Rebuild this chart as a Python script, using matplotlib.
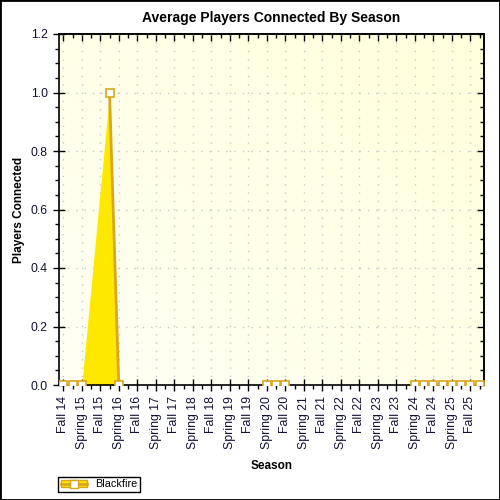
import numpy as np
import matplotlib
matplotlib.use("Agg")
import matplotlib.pyplot as plt
from matplotlib.lines import Line2D
from matplotlib.patches import Patch, Rectangle
from matplotlib.ticker import MultipleLocator, FormatStrFormatter, NullFormatter

plt.rcParams["font.family"] = ["Liberation Sans", "DejaVu Sans"]

# %%
# data: one label per season, samples every half season
season_labels = [
    "Fall 14", "Spring 15", "Fall 15", "Spring 16", "Fall 16", "Spring 17",
    "Fall 17", "Spring 18", "Fall 18", "Spring 19", "Fall 19", "Spring 20",
    "Fall 20", "Spring 21", "Fall 21", "Spring 22", "Fall 22", "Spring 23",
    "Fall 23", "Spring 24", "Fall 24", "Spring 25", "Fall 25",
]
sample_pos = [0, 0.5, 1, 2.5, 3, 11, 11.5, 12,
              19, 19.5, 20, 20.5, 21, 21.5, 22, 22.5]
players = [0.0, 0.0, 0.0, 1.0, 0.0, 0.0, 0.0, 0.0,
           0.0, 0.0, 0.0, 0.0, 0.0, 0.0, 0.0, 0.0]
series_name = "Blackfire"

line_col = "#DAA520"
fill_col = "#FFE800"

x = np.asarray(sample_pos, dtype=float)
y = np.asarray(players, dtype=float)

# line breaks where samples are missing (fill does not break)
xs, ys = [x[0]], [y[0]]
for i in range(1, len(x)):
    if x[i] - x[i - 1] > 0.5:
        xs.append(np.nan)
        ys.append(np.nan)
    xs.append(x[i])
    ys.append(y[i])

# %%
fig = plt.figure(figsize=(5, 5), dpi=100)
ax = fig.add_axes([0.118, 0.23, 0.85, 0.702])

# soft yellow gradient background
grad = np.linspace(0, 1, 256)
gx, gy = np.meshgrid(grad, grad)
g = (gx + gy) / 2
c0 = np.array([1.0, 1.0, 0.96])
c1 = np.array([1.0, 1.0, 0.86])
img = c0 + (c1 - c0) * g[..., None]
ax.imshow(img, extent=(0, 1, 0, 1), transform=ax.transAxes, origin="lower",
          aspect="auto", zorder=0)

ax.set_xlim(-0.23, 22.74)
ax.set_ylim(0, 1.2)

ax.fill_between(x, y, 0, color=fill_col, lw=0, zorder=2)
ax.plot(xs, ys, color=line_col, lw=2, zorder=3)
ax.plot(x, y, ls="none", marker="s", ms=6, mfc="white", mec=line_col,
        mew=1.2, zorder=4)

# ticks: bottom/left cross the axis, top/right point inward
ax.set_xticks(range(len(season_labels)))
ax.set_xticklabels(season_labels, rotation=90)
ax.xaxis.set_minor_locator(MultipleLocator(0.5))
ax.yaxis.set_major_locator(MultipleLocator(0.2))
ax.yaxis.set_minor_locator(MultipleLocator(0.05))
ax.yaxis.set_major_formatter(FormatStrFormatter("%.1f"))
ax.tick_params(axis="both", which="major", direction="inout", length=8,
               width=1, labelsize=8.8, labelcolor="#111133")
ax.tick_params(axis="both", which="minor", direction="out", length=3, width=1)
ax.tick_params(axis="x", which="major", pad=4)
ax.tick_params(axis="y", which="major", pad=4)

for where in ("top", "right"):
    sec = (ax.secondary_xaxis(where) if where == "top"
           else ax.secondary_yaxis(where))
    axis = sec.xaxis if where == "top" else sec.yaxis
    if where == "top":
        axis.set_major_locator(MultipleLocator(1))
        axis.set_minor_locator(MultipleLocator(0.5))
    else:
        axis.set_major_locator(MultipleLocator(0.2))
        axis.set_minor_locator(MultipleLocator(0.05))
    axis.set_major_formatter(NullFormatter())
    sec.tick_params(which="major", direction="in", length=5, width=1)
    sec.tick_params(which="minor", direction="in", length=3, width=1)
    sec.spines[where].set_linewidth(1.2)

for sp in ax.spines.values():
    sp.set_linewidth(1.2)

ax.grid(True, which="major", color="#c8c8c8", ls=(0, (1, 5)), lw=1)
for gl in ax.get_xgridlines() + ax.get_ygridlines():
    gl.set_zorder(1)

ax.set_title("Average Players Connected By Season", fontsize=10,
             fontweight="bold", pad=9)
ax.set_xlabel("Season", fontsize=8.5, fontweight="bold", labelpad=8)
ax.set_ylabel("Players Connected", fontsize=8.5, fontweight="bold", labelpad=4)

# legend
handle = (Patch(facecolor=fill_col, edgecolor=line_col, lw=1),
          Line2D([], [], color=line_col, lw=2, marker="s", ms=6,
                 mfc="white", mec=line_col))
leg = fig.legend([handle], [series_name], loc="lower left",
                 bbox_to_anchor=(0.116, 0.016), fontsize=7.8, frameon=True,
                 fancybox=False, edgecolor="black", framealpha=1,
                 borderpad=0.25, handlelength=2.4, handletextpad=0.8,
                 borderaxespad=0)
leg.get_frame().set_linewidth(1)

fig.patches.append(Rectangle((0, 0), 1, 1, transform=fig.transFigure,
                             fill=False, edgecolor="black", lw=2))

fig.savefig("out.png", dpi=100)
